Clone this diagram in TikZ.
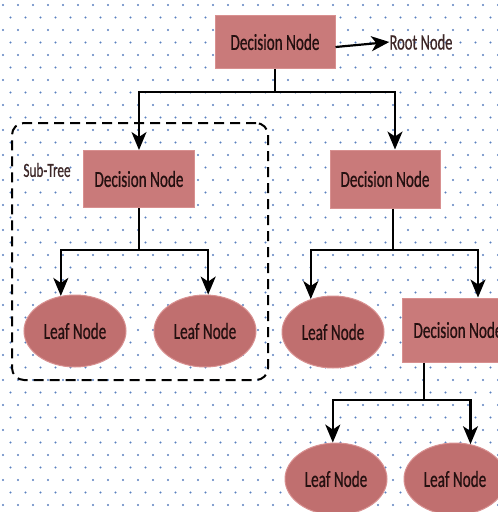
\documentclass[tikz,border=0pt]{standalone}
\usepackage{fontspec}
\newfontfamily\treefont[FakeStretch=0.66,FakeBold=0.6]{Carlito}
\usetikzlibrary{arrows.meta,shapes.geometric}

\definecolor{boxfill}{HTML}{C97A7A}
\definecolor{leaffill}{HTML}{C06F6F}
\definecolor{boxline}{HTML}{D89090}
\definecolor{nodetext}{HTML}{241010}
\definecolor{labeltext}{HTML}{3E2828}
\definecolor{dotblue}{HTML}{5A80C0}

\tikzset{
  decision/.style={rectangle,draw=boxline,line width=1pt,fill=boxfill,
    minimum width=111pt,minimum height=57pt,inner sep=0pt,
    font=\treefont\fontsize{23}{24}\selectfont,text=nodetext},
  leaf/.style={ellipse,draw=boxline,line width=1pt,fill=leaffill,
    minimum width=102pt,minimum height=72pt,inner sep=0pt,
    font=\treefont\fontsize{23}{24}\selectfont,text=nodetext},
  tag/.style={inner sep=0pt,font=\treefont\fontsize{22}{24}\selectfont,text=labeltext},
  branch/.style={line width=2.2pt,black},
  subframe/.style={draw,dashed,dash pattern=on 10pt off 6pt,line width=2pt,
    rounded corners=12pt,minimum width=256pt,minimum height=257pt,inner sep=0pt}
}

\begin{document}
\begin{tikzpicture}[x=1pt,y=-1pt,>={Stealth[length=18pt,width=15pt,inset=5pt]}]
  \clip (0,0) rectangle (498,512);
  \fill[white] (0,0) rectangle (498,512);
  % dotted paper
  \foreach \r in {0,...,41} {
    \pgfmathsetmacro\xoff{mod(\r,2)*7.5}
    \foreach \c in {0,...,33}
      \fill[dotblue] (\c*15+\xoff+3,\r*12.5+5) circle (1.1pt);
  }

  \node[subframe] (frame) at (140,251.5) {};
  \node[tag,font=\treefont\fontsize{20}{22}\selectfont] (subname) at (47,170) {Sub-Tree};

  \node[decision,minimum width=120pt,minimum height=53pt] (root) at (275,42) {Decision Node};
  \node[tag] (rootlbl) at (421,42) {Root Node};
  \node[decision] (sub) at (139,179) {Decision Node};
  \node[decision,minimum width=110pt,minimum height=58pt] (right) at (385,179) {Decision Node};
  \node[leaf] (la) at (75,331) {Leaf Node};
  \node[leaf] (lb) at (205,331) {Leaf Node};
  \node[leaf] (lc) at (333,332) {Leaf Node};
  \node[decision,minimum width=112pt,minimum height=64pt] (low) at (458,330) {Decision Node};
  \node[leaf] (ld) at (336,479) {Leaf Node};
  \node[leaf] (le) at (455,479) {Leaf Node};

  \coordinate (s0) at (275,92);
  \coordinate (s1) at (139,250);
  \coordinate (s2) at (393,250);
  \coordinate (s3) at (424,400);

  \draw[branch,->] ([yshift=-5pt]root.east) -- (rootlbl.west);
  \draw[branch] (root.south) -- (s0);
  \draw[branch,->] (s0) -| (sub.north);
  \draw[branch,->] (s0) -| ([xshift=10pt]right.north);

  \draw[branch] (sub.south) -- (s1);
  \draw[branch,->] (s1) -| (la.112);
  \draw[branch,->] (s1) -| (lb.85);

  \draw[branch] ([xshift=8pt]right.south) -- (s2);
  \draw[branch,->] (s2) -| (lc.124);
  \draw[branch,->] (s2) -| ([xshift=20pt]low.north);

  \draw[branch] ([xshift=-34pt]low.south) -- (s3);
  \draw[branch,->] (s3) -| (ld.95);
  \draw[branch,->] (s3) -| (le.66);
\end{tikzpicture}
\end{document}
